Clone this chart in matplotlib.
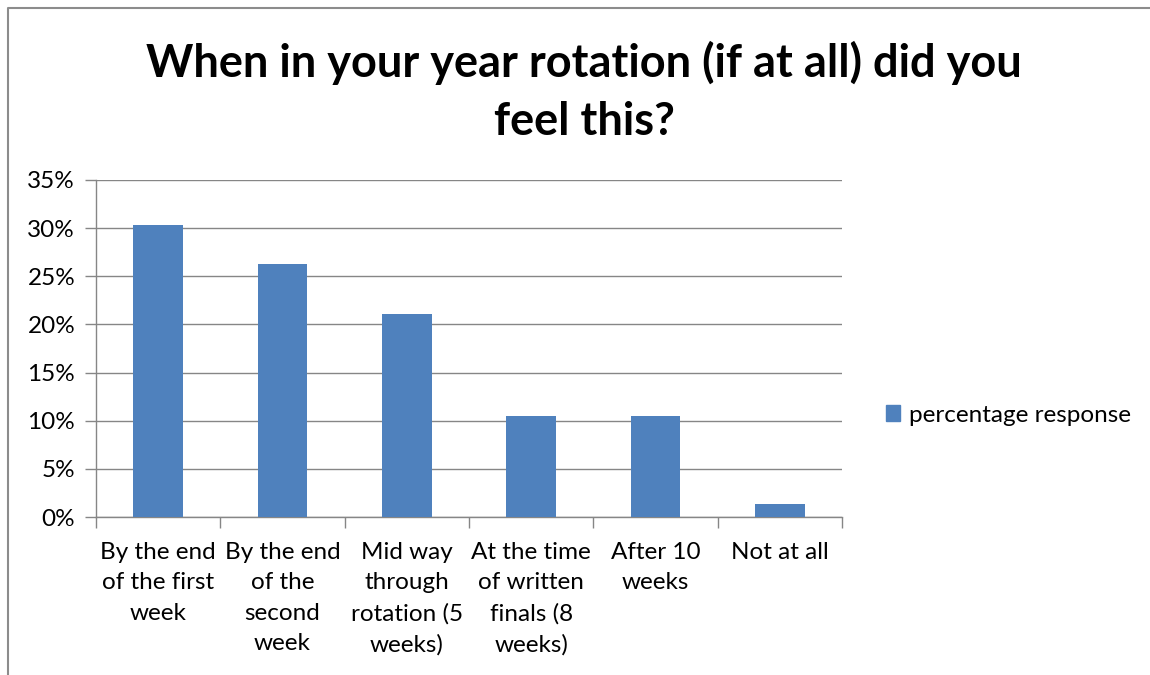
import matplotlib
matplotlib.use("Agg")
import matplotlib.pyplot as plt
from matplotlib.lines import Line2D
from matplotlib.ticker import PercentFormatter, FixedLocator

categories = ["By the end\nof the first\nweek", "By the end\nof the\nsecond\nweek",
              "Mid way\nthrough\nrotation (5\nweeks)", "At the time\nof written\nfinals (8\nweeks)",
              "After 10\nweeks", "Not at all"]
values = [30.3, 26.3, 21.05, 10.5, 10.5, 1.3]
yticks = [0, 5, 10, 15, 20, 25, 30, 35]
series_name = "percentage response"
title = "When in your year rotation (if at all) did you\nfeel this?"

W, H = 1150, 675
plt.rcParams['font.family'] = ['Lato', 'DejaVu Sans']
fig = plt.figure(figsize=(W/100, H/100), dpi=100)

def fx(x): return x / W
def fy(y): return 1 - y / H

# chart frame (left and top visible)
fig.add_artist(Line2D([fx(8), fx(8), fx(1160)], [fy(690), fy(8), fy(8)],
                      transform=fig.transFigure, color="#8c8c8c", lw=1.5))

ax = fig.add_axes([fx(96), fy(517), fx(842) - fx(96), fy(180) - fy(517)])
blue = "#4F81BD"
xs = list(range(len(categories)))
ax.bar(xs, values, width=0.4, color=blue, zorder=3)
ax.set_xlim(-0.5, len(categories) - 0.5)
ax.set_ylim(0, 35)
ax.yaxis.set_major_locator(FixedLocator(yticks))
ax.yaxis.set_major_formatter(PercentFormatter(decimals=0))
ax.grid(axis="y", color="#868686", lw=1, zorder=0)
for s in ["top", "right"]:
    ax.spines[s].set_visible(False)
for s in ["left", "bottom"]:
    ax.spines[s].set_color("#868686")
    ax.spines[s].set_linewidth(1)
ax.tick_params(axis="y", length=8, width=1, color="#868686", labelsize=17.5, pad=7)
ax.set_xticks([x + 0.5 for x in [-1] + xs])
ax.set_xticklabels([])
ax.set_xticks(xs, minor=True)
ax.set_xticklabels(categories, minor=True, fontsize=17.5, linespacing=1.55, va="top")
ax.tick_params(axis="x", which="minor", length=0, pad=18)
ax.tick_params(axis="x", which="major", length=8, width=1, color="#868686")

fig.text(fx(584), fy(92), title, ha="center", va="center", fontsize=32.5,
         fontweight="bold", linespacing=1.45)

h = plt.Rectangle((0, 0), 1, 1, color=blue)
fig.legend([h], [series_name], loc="center left", bbox_to_anchor=(fx(876), fy(415)),
           frameon=False, fontsize=17.5, handlelength=0.6, handleheight=0.6,
           handletextpad=0.35, borderaxespad=0)

fig.savefig("out.png", dpi=100, facecolor="white")
